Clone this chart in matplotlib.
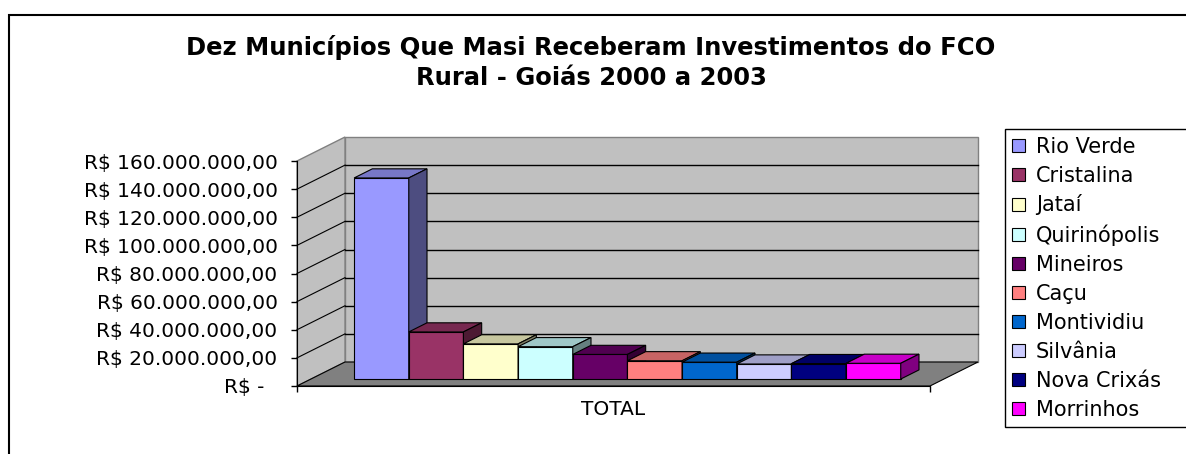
import matplotlib
matplotlib.use('Agg')
import numpy as np
from matplotlib import pyplot as plt
from matplotlib.patches import Polygon, Rectangle
from matplotlib.ticker import FuncFormatter
from matplotlib.colors import to_rgb

plt.rcParams['font.family'] = ['DejaVu Sans']

municipios = ['Rio Verde', 'Cristalina', 'Jataí', 'Quirinópolis', 'Mineiros',
              'Caçu', 'Montividiu', 'Silvânia', 'Nova Crixás', 'Morrinhos']
# valores em milhões de R$
valores = [143, 33.5, 25, 23, 17.5, 13, 12, 10.7, 11, 11.2]
cores = ['#9999FF', '#993366', '#FFFFCC', '#CCFFFF', '#660066',
         '#FF8080', '#0066CC', '#CCCCFF', '#000080', '#FF00FF']
yticks = [0, 20, 40, 60, 80, 100, 120, 140, 160]
titulo = 'Dez Municípios Que Masi Receberam Investimentos do FCO\nRural - Goiás 2000 a 2003'
categoria = 'TOTAL'


def shade(c, k):
    return tuple(v * k for v in to_rgb(c))


def moeda(v, pos):
    if v == 0:
        return 'R$ -  '
    s = f'{v * 1e6:,.2f}'.replace(',', 'X').replace('.', ',').replace('X', '.')
    return 'R$ ' + s


W, H = 1186, 454
fig = plt.figure(figsize=(W / 100, H / 100), dpi=100)

# front plane of the 3d box, in pixels
left, right, bottom, top = 297, 930, 386, 161
ax = fig.add_axes([left / W, 1 - bottom / H, (right - left) / W, (bottom - top) / H])
x0, x1 = -1.29, 10.29
ax.set_xlim(x0, x1)
ax.set_ylim(0, 160)

# depth of the box in data units
px_x = (right - left) / (x1 - x0)
px_y = (bottom - top) / 160
DX = 48 / px_x
DY = 24 / px_y
f0, f1 = 0.29, 0.67   # bar depth range

# walls and floor
ax.add_patch(Polygon([(x0 + DX, DY), (x1 + DX, DY), (x1 + DX, 160 + DY), (x0 + DX, 160 + DY)],
                     closed=True, fc='#C0C0C0', ec='#808080', lw=1, clip_on=False, zorder=0))
ax.add_patch(Polygon([(x0, 0), (x0 + DX, DY), (x0 + DX, 160 + DY), (x0, 160)],
                     closed=True, fc='#C0C0C0', ec='#808080', lw=1, clip_on=False, zorder=0))
ax.add_patch(Polygon([(x0, 0), (x1, 0), (x1 + DX, DY), (x0 + DX, DY)],
                     closed=True, fc='#808080', ec='black', lw=0.8, clip_on=False, zorder=0.5))
for v in yticks[1:-1]:
    ax.plot([x0 + DX, x1 + DX], [v + DY, v + DY], color='black', lw=1, clip_on=False, zorder=0.6)
    ax.plot([x0, x0 + DX], [v, v + DY], color='black', lw=0.8, clip_on=False, zorder=0.6)

# bars with top and side faces
for i, (nome, v, c) in enumerate(zip(municipios, valores, cores)):
    z = 2 + i
    xl = i - 0.5 + f0 * DX
    xr = i + 0.5 + f0 * DX
    yb = f0 * DY
    yt = yb + v
    dx, dy = (f1 - f0) * DX, (f1 - f0) * DY
    ax.bar(i + f0 * DX, v, bottom=yb, width=1, color=c, edgecolor='black',
           linewidth=0.8, label=nome, zorder=z, clip_on=False)
    ax.add_patch(Polygon([(xl, yt), (xr, yt), (xr + dx, yt + dy), (xl + dx, yt + dy)],
                         closed=True, fc=shade(c, 0.78), ec='black', lw=0.8, zorder=z, clip_on=False))
    ax.add_patch(Polygon([(xr, yb), (xr + dx, yb + dy), (xr + dx, yt + dy), (xr, yt)],
                         closed=True, fc=shade(c, 0.5), ec='black', lw=0.8, zorder=z, clip_on=False))

# axes
for s in ['top', 'right']:
    ax.spines[s].set_visible(False)
ax.spines['left'].set_zorder(20)
ax.spines['bottom'].set_zorder(20)
ax.patch.set_visible(False)
ax.set_yticks(yticks)
ax.yaxis.set_major_formatter(FuncFormatter(moeda))
ax.tick_params(axis='y', direction='out', length=4, width=1, labelsize=14.5, pad=10)
ax.set_xticks([(x0 + x1) / 2], [categoria])
ax.set_xticks([x0, x1], minor=True)
ax.tick_params(axis='x', which='major', length=0, labelsize=14.5, pad=10)
ax.tick_params(axis='x', which='minor', direction='out', length=4, width=1)

fig.text(591 / W, 1 - 35 / H, titulo, ha='center', va='top', fontsize=17.5,
         fontweight='bold', linespacing=1.3)

# legend box runs past the right edge of the picture
fig.legend(loc='upper left', bbox_to_anchor=(1005 / W, 1 - 134 / H, 220 / W, 0.01),
           mode='expand', fontsize=15,
           frameon=True, fancybox=False, edgecolor='black', framealpha=1,
           borderaxespad=0, handlelength=0.6, handleheight=0.6, handletextpad=0.55,
           labelspacing=0.43, borderpad=0.34)

fig.add_artist(Rectangle((9 / W, -0.1), 1.2, 1.1 - 15 / H, transform=fig.transFigure,
                         fill=False, ec='black', lw=1.5))

fig.savefig('out.png', dpi=100)
